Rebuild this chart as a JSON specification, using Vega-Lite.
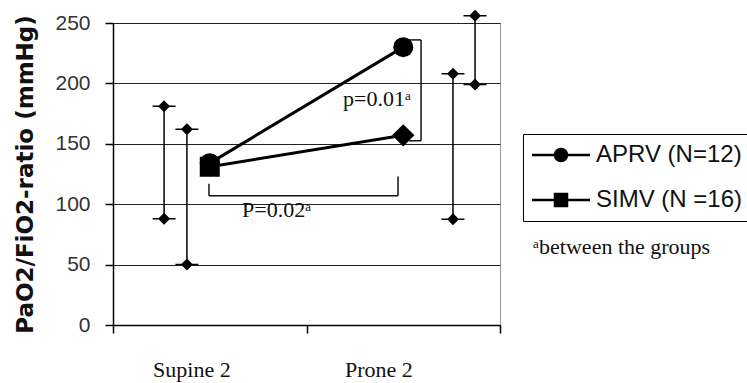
{
  "$schema": "https://vega.github.io/schema/vega-lite/v6.json",
  "width": 387,
  "height": 302,
  "autosize": {"type": "none"},
  "padding": {"left": 113, "top": 23, "right": 247, "bottom": 58},
  "background": "white",
  "view": {"stroke": "#999", "strokeWidth": 1},
  "datasets": {
    "points": [
      {"series": "APRV (N=12)", "time": "Supine 2", "pos": 0.5, "value": 134},
      {"series": "APRV (N=12)", "time": "Prone 2", "pos": 1.5, "value": 230},
      {"series": "SIMV (N =16)", "time": "Supine 2", "pos": 0.5, "value": 131},
      {"series": "SIMV (N =16)", "time": "Prone 2", "pos": 1.5, "value": 157}
    ],
    "errorbars": [
      {"pos": 0.264, "low": 88, "high": 181},
      {"pos": 0.382, "low": 50, "high": 162},
      {"pos": 1.757, "low": 87.5, "high": 208},
      {"pos": 1.871, "low": 199, "high": 256}
    ],
    "brackets": [
      {"x": 1.519, "x2": 1.592, "y": 236, "y2": 236},
      {"x": 1.592, "x2": 1.592, "y": 236, "y2": 152.5},
      {"x": 1.53, "x2": 1.592, "y": 152.5, "y2": 152.5},
      {"x": 0.496, "x2": 1.473, "y": 107, "y2": 107},
      {"x": 0.496, "x2": 0.496, "y": 117, "y2": 107},
      {"x": 1.473, "x2": 1.473, "y": 123, "y2": 107}
    ],
    "notes": [
      {"text": "p=0.01ᵃ", "x": 1.189, "y": 181},
      {"text": "P=0.02ᵃ", "x": 0.667, "y": 89},
      {"text": "ᵃbetween the groups", "x": 2.171, "y": 59}
    ],
    "cats": [
      {"text": "Supine 2", "x": 0.207, "y": -43},
      {"text": "Prone 2", "x": 1.199, "y": -43}
    ]
  },
  "config": {
    "axis": {"domainColor": "black", "tickColor": "black", "gridColor": "#222", "gridWidth": 1}
  },
  "layer": [
    {
      "data": {"name": "errorbars"},
      "mark": {"type": "rule", "color": "black", "strokeWidth": 1.5},
      "encoding": {
        "x": {
          "field": "pos", "type": "quantitative",
          "scale": {"domain": [0, 2], "nice": false, "zero": false},
          "axis": {"values": [0, 1, 2], "labels": false, "title": null, "grid": false, "tickSize": 8, "domainWidth": 1.5, "tickWidth": 1.5}
        },
        "y": {
          "field": "low", "type": "quantitative",
          "scale": {"domain": [0, 250], "nice": false},
          "axis": {
            "values": [0, 50, 100, 150, 200, 250],
            "title": "PaO2/FiO2-ratio (mmHg)",
            "titleFont": "DejaVu Sans", "titleFontWeight": "bold", "titleFontSize": 23, "titleColor": "#111",
            "titleX": -88, "titleY": 151, "titleAngle": -90, "titleAlign": "center", "titleBaseline": "middle",
            "labelFont": "Liberation Sans", "labelFontSize": 21, "labelColor": "#333", "labelPadding": 15,
            "tickSize": 8, "tickWidth": 1.5, "domainWidth": 1.5, "grid": true
          }
        },
        "y2": {"field": "high"}
      }
    },
    {
      "data": {"name": "errorbars"},
      "mark": {"type": "point", "filled": true, "color": "black", "stroke": "black", "strokeWidth": 1.5, "opacity": 1,
               "shape": "M-1,0H1M0,-0.43L0.43,0L0,0.43L-0.43,0Z", "size": 529},
      "encoding": {"x": {"field": "pos", "type": "quantitative"}, "y": {"field": "low", "type": "quantitative"}}
    },
    {
      "data": {"name": "errorbars"},
      "mark": {"type": "point", "filled": true, "color": "black", "stroke": "black", "strokeWidth": 1.5, "opacity": 1,
               "shape": "M-1,0H1M0,-0.43L0.43,0L0,0.43L-0.43,0Z", "size": 529},
      "encoding": {"x": {"field": "pos", "type": "quantitative"}, "y": {"field": "high", "type": "quantitative"}}
    },
    {
      "data": {"name": "brackets"},
      "mark": {"type": "rule", "color": "#111", "strokeWidth": 1.5},
      "encoding": {
        "x": {"field": "x", "type": "quantitative"},
        "x2": {"field": "x2"},
        "y": {"field": "y", "type": "quantitative"},
        "y2": {"field": "y2"}
      }
    },
    {
      "data": {"name": "points"},
      "mark": {"type": "line", "strokeWidth": 3},
      "encoding": {
        "x": {"field": "pos", "type": "quantitative"},
        "y": {"field": "value", "type": "quantitative"},
        "stroke": {
          "field": "series", "type": "nominal",
          "scale": {"domain": ["APRV (N=12)", "SIMV (N =16)"], "range": ["black", "black"]},
          "legend": {
            "orient": "none", "legendX": 410, "legendY": 111, "title": null,
            "strokeColor": "black", "padding": 9, "fillColor": "white",
            "symbolSize": 144, "symbolStrokeWidth": 2.5, "symbolStrokeColor": "black", "symbolFillColor": "black",
            "symbolOffset": 17,
            "labelFont": "Liberation Sans", "labelFontSize": 24, "labelColor": "#111", "labelOffset": 23,
            "rowPadding": 21,
            "encode": {
              "symbols": {
                "update": {
                  "shape": {"signal": "datum.value === 'APRV (N=12)' ? 'M-4.83,0H4.83M1,0A1,1,0,1,1,-1,0A1,1,0,1,1,1,0Z' : 'M-4.83,0H4.83M-1,-1H1V1H-1Z'"},
                  "fill": {"value": "black"},
                  "stroke": {"value": "black"},
                  "strokeWidth": {"value": 2.5}
                }
              }
            }
          }
        }
      }
    },
    {
      "data": {"name": "points"},
      "transform": [{"filter": "datum.series === 'APRV (N=12)'"}],
      "mark": {"type": "point", "shape": "circle", "filled": true, "color": "black", "size": 400, "opacity": 1},
      "encoding": {"x": {"field": "pos", "type": "quantitative"}, "y": {"field": "value", "type": "quantitative"}}
    },
    {
      "data": {"name": "points"},
      "transform": [{"filter": "datum.series === 'SIMV (N =16)' && datum.time === 'Supine 2'"}],
      "mark": {"type": "point", "shape": "square", "filled": true, "color": "black", "size": 400, "opacity": 1},
      "encoding": {"x": {"field": "pos", "type": "quantitative"}, "y": {"field": "value", "type": "quantitative"}}
    },
    {
      "data": {"name": "points"},
      "transform": [{"filter": "datum.series === 'SIMV (N =16)' && datum.time === 'Prone 2'"}],
      "mark": {"type": "point", "shape": "diamond", "filled": true, "color": "black", "size": 500, "opacity": 1},
      "encoding": {"x": {"field": "pos", "type": "quantitative"}, "y": {"field": "value", "type": "quantitative"}}
    },
    {
      "data": {"name": "notes"},
      "mark": {"type": "text", "align": "left", "baseline": "alphabetic", "font": "Liberation Serif", "fontSize": 22, "color": "#111"},
      "encoding": {
        "x": {"field": "x", "type": "quantitative"},
        "y": {"field": "y", "type": "quantitative"},
        "text": {"field": "text"}
      }
    },
    {
      "data": {"name": "cats"},
      "mark": {"type": "text", "align": "left", "baseline": "alphabetic", "font": "Liberation Serif", "fontSize": 22, "color": "#111"},
      "encoding": {
        "x": {"field": "x", "type": "quantitative"},
        "y": {"field": "y", "type": "quantitative"},
        "text": {"field": "text"}
      }
    }
  ]
}
